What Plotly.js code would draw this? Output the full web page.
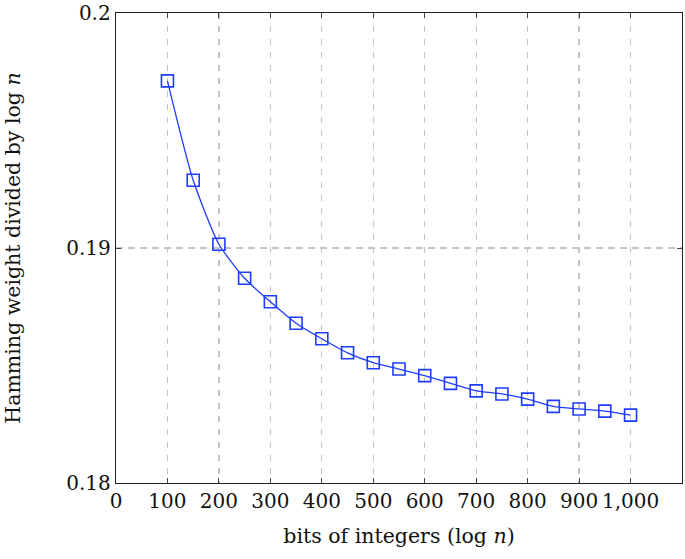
<!DOCTYPE html>
<html>
<head>
<meta charset="utf-8">
<script src="https://cdn.plot.ly/plotly-3.0.1.min.js"></script>
<style>
  html, body { margin: 0; padding: 0; background: #fff; }
  #chart { width: 685px; height: 559px; }
</style>
</head>
<body>
<div id="chart"></div>
<script>
const bits = [100, 150, 200, 250, 300, 350, 400, 450, 500, 550, 600, 650, 700, 750, 800, 850, 900, 950, 1000];
const weightRatio = [0.19711, 0.19288, 0.19016, 0.18871, 0.18771, 0.18680, 0.18614, 0.18554, 0.18512, 0.18485,
  0.18457, 0.18424, 0.18392, 0.18379, 0.18357, 0.18326, 0.18315, 0.18306, 0.18289];
const xTicks = [0, 100, 200, 300, 400, 500, 600, 700, 800, 900, 1000];
const yTicks = [0.18, 0.19, 0.2];

const blue = 'rgb(30,60,255)';
const serif = 'DejaVu Serif, Liberation Serif, serif';

const trace = {
  type: 'scatter', mode: 'lines+markers', x: bits, y: weightRatio,
  line: { color: blue, width: 1.3, shape: 'spline', smoothing: 0.6 },
  marker: { symbol: 'square-open', size: 12, color: blue, line: { width: 1.6 } },
  showlegend: false
};

const axisCommon = {
  showline: true, mirror: 'ticks', linecolor: '#222', linewidth: 1.3,
  ticks: 'inside', ticklen: 5, tickcolor: '#444', tickwidth: 1,
  showgrid: true, gridcolor: '#c4c4c4', gridwidth: 1.2,
  zeroline: false, tickfont: { family: serif, size: 20, color: '#111' }
};

const layout = {
  width: 685, height: 559,
  paper_bgcolor: '#fff', plot_bgcolor: '#fff',
  margin: { l: 116, r: 3, t: 13, b: 76 },
  font: { family: serif, color: '#111' },
  xaxis: {
    ...axisCommon, range: [0, 1100], tickvals: xTicks, tickformat: ',d',
    griddash: '6px,7px',
    title: { text: 'bits of integers (log <i>n</i>)', font: { family: serif, size: 20.5 }, standoff: 16 }
  },
  yaxis: {
    ...axisCommon, range: [0.18, 0.2], tickvals: yTicks, ticktext: ['0.18', '0.19', '0.2'],
    griddash: '7px,5px',
    title: { text: 'Hamming weight divided by log <i>n</i>', font: { family: serif, size: 20.5 }, standoff: 40 }
  }
};

Plotly.newPlot('chart', [trace], layout, { displayModeBar: false, staticPlot: true });
</script>
</body>
</html>
